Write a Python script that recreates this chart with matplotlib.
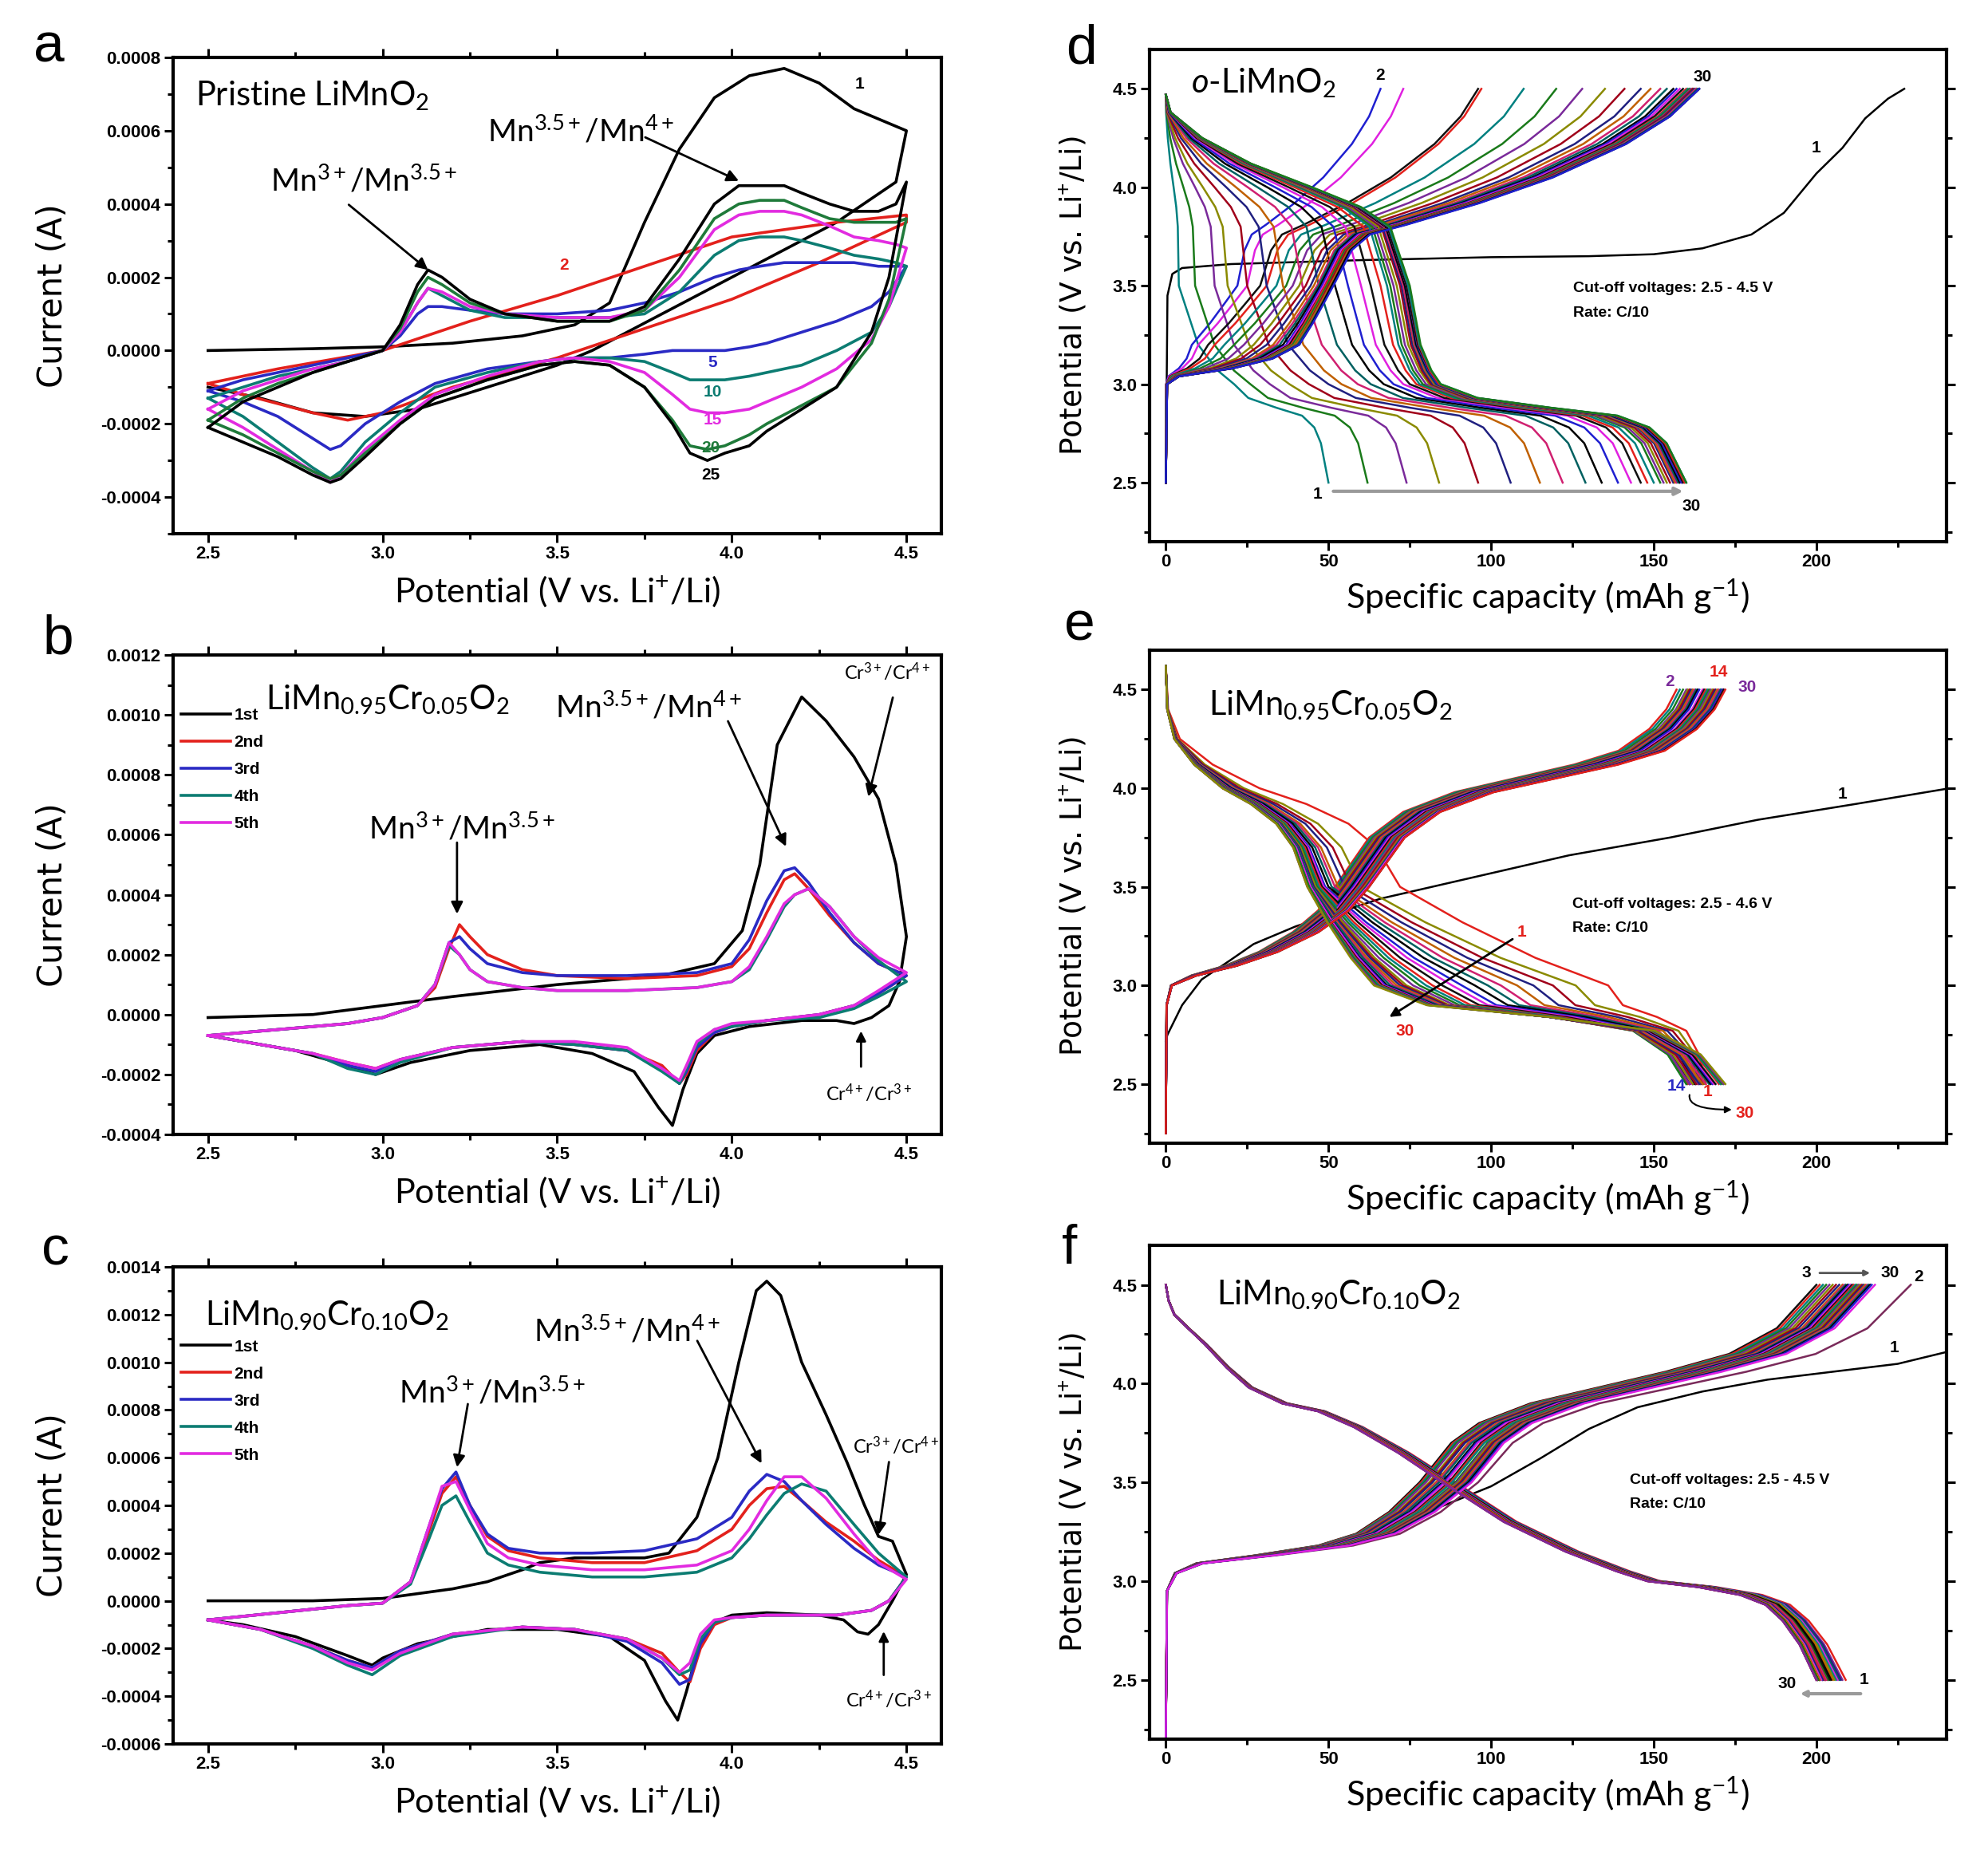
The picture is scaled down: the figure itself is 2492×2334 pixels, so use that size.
import matplotlib
matplotlib.use("Agg")
import matplotlib.pyplot as plt
from matplotlib.ticker import MultipleLocator, FormatStrFormatter

plt.rcParams['mathtext.fontset'] = 'custom'
plt.rcParams['mathtext.rm'] = 'Lato'
plt.rcParams['mathtext.it'] = 'Lato:italic'
plt.rcParams['mathtext.bf'] = 'Lato:bold'

# ---------------- panel a : pristine LiMnO2, CV cycles 1,2,5,10,15,20,25 ----------------
a_v1_up = [2.5, 2.8, 3.0, 3.2, 3.4, 3.55, 3.65, 3.75, 3.85, 3.95, 4.05, 4.15, 4.25, 4.35, 4.45, 4.5]
a_i1_up = [0.0, 0.000005, 0.00001, 0.00002, 0.00004, 0.00007, 0.00013, 0.00035, 0.00055, 0.00069,
           0.00075, 0.00077, 0.00073, 0.00066, 0.00062, 0.0006]
a_v1_down = [4.5, 4.47, 4.3, 4.0, 3.8, 3.6, 3.5, 3.3, 3.1, 2.95, 2.8, 2.65, 2.5]
a_i1_down = [0.0006, 0.00046, 0.00035, 0.0002, 0.0001, 0.0, -0.00004, -0.0001, -0.00016, -0.00018,
             -0.00017, -0.00013, -0.0001]

a_v2_up = [2.5, 2.7, 3.0, 3.25, 3.5, 3.75, 4.0, 4.3, 4.5]
a_i2_up = [-0.00009, -0.00005, 0.0, 0.00008, 0.00015, 0.00023, 0.00031, 0.00035, 0.00037]
a_v2_down = [4.5, 4.25, 4.0, 3.75, 3.5, 3.2, 3.0, 2.9, 2.8, 2.6, 2.5]
a_i2_down = [0.00035, 0.00024, 0.00014, 0.00006, -0.00002, -0.0001, -0.00017, -0.00019, -0.00017,
             -0.00012, -0.00009]

# shared potential grids for cycles 5-25
a_v_up = [2.5, 2.6, 2.7, 2.8, 2.9, 3.0, 3.05, 3.1, 3.13, 3.17, 3.25, 3.35, 3.5, 3.65, 3.75, 3.85,
          3.95, 4.02, 4.08, 4.15, 4.2, 4.28, 4.35, 4.42, 4.47, 4.5]
a_v_down = [4.5, 4.45, 4.4, 4.3, 4.2, 4.1, 4.05, 3.98, 3.93, 3.88, 3.83, 3.75, 3.65, 3.55, 3.45,
            3.3, 3.15, 3.05, 2.95, 2.88, 2.85, 2.8, 2.7, 2.6, 2.5]
a_i5_up = [-0.00011, -0.00008, -0.00006, -0.00004, -0.00002, 0.0, 0.00004, 0.0001, 0.00012, 0.00012,
           0.00011, 0.0001, 0.0001, 0.00011, 0.00013, 0.00016, 0.0002, 0.00022, 0.00023, 0.00024,
           0.00024, 0.00024, 0.00024, 0.00023, 0.00023, 0.00023]
a_i5_down = [0.00023, 0.00016, 0.00012, 0.00008, 0.00005, 0.00002, 0.00001, 0.0, 0.0, 0.0, 0.0,
             -0.00001, -0.00002, -0.00002, -0.00003, -0.00005, -0.00009, -0.00014, -0.0002, -0.00026,
             -0.00027, -0.00024, -0.00018, -0.00014, -0.00011]
a_i10_up = [-0.00013, -0.0001, -0.00007, -0.00005, -0.00003, 0.0, 0.00005, 0.00013, 0.00017, 0.00015,
            0.00011, 0.00009, 0.00009, 0.00009, 0.0001, 0.00016, 0.00026, 0.0003, 0.00031, 0.00031,
            0.0003, 0.00028, 0.00026, 0.00025, 0.00024, 0.00023]
a_i10_down = [0.00023, 0.00012, 0.00005, 0.0, -0.00004, -0.00006, -0.00007, -0.00008, -0.00008,
              -0.00008, -0.00006, -0.00003, -0.00002, -0.00002, -0.00003, -0.00006, -0.0001, -0.00017,
              -0.00025, -0.00033, -0.00035, -0.00032, -0.00025, -0.00018, -0.00013]
a_i15_up = [-0.00016, -0.00011, -0.00008, -0.00005, -0.00003, 0.0, 0.00005, 0.00013, 0.00017, 0.00016,
            0.00012, 0.0001, 0.00009, 0.00009, 0.00011, 0.0002, 0.00033, 0.00037, 0.00038, 0.00038,
            0.00037, 0.00034, 0.00031, 0.0003, 0.00029, 0.00028]
a_i15_down = [0.00028, 0.00012, 0.00003, -0.00005, -0.0001, -0.00014, -0.00016, -0.00017, -0.00017,
              -0.00016, -0.00012, -0.00006, -0.00003, -0.00002, -0.00003, -0.00007, -0.00012, -0.00019,
              -0.00027, -0.00034, -0.00036, -0.00033, -0.00027, -0.00021, -0.00016]
a_i20_up = [-0.00019, -0.00013, -0.00009, -0.00006, -0.00003, 0.0, 0.00006, 0.00016, 0.0002, 0.00018,
            0.00013, 0.0001, 0.00008, 0.00008, 0.00011, 0.00022, 0.00036, 0.0004, 0.00041, 0.00041,
            0.00039, 0.00036, 0.00035, 0.00035, 0.00035, 0.00036]
a_i20_down = [0.00036, 0.00014, 0.00002, -0.0001, -0.00015, -0.0002, -0.00023, -0.00026, -0.00027,
              -0.00026, -0.00019, -0.0001, -0.00004, -0.00003, -0.00004, -0.00008, -0.00013, -0.0002,
              -0.00028, -0.00034, -0.00035, -0.00033, -0.00028, -0.00023, -0.00019]
a_i25_up = [-0.00021, -0.00014, -0.0001, -0.00006, -0.00003, 0.0, 0.00007, 0.00018, 0.00022, 0.0002,
            0.00014, 0.0001, 0.00008, 0.00008, 0.00012, 0.00025, 0.0004, 0.00045, 0.00045, 0.00045,
            0.00043, 0.0004, 0.00038, 0.00038, 0.0004, 0.00046]
a_i25_down = [0.00046, 0.0002, 0.00005, -0.0001, -0.00016, -0.00022, -0.00026, -0.00028, -0.0003,
              -0.00028, -0.0002, -0.0001, -0.00004, -0.00003, -0.00004, -0.00008, -0.00013, -0.0002,
              -0.00029, -0.00035, -0.00036, -0.00034, -0.00029, -0.00025, -0.00021]

# ---------------- panel b : LiMn0.95Cr0.05O2, CV cycles 1-5 ----------------
b_v1_up = [2.5, 2.8, 3.0, 3.2, 3.5, 3.8, 3.95, 4.03, 4.08, 4.13, 4.2, 4.27, 4.35, 4.42, 4.47, 4.5]
b_i1_up = [-0.00001, 0.0, 0.00003, 0.00006, 0.0001, 0.00013, 0.00017, 0.00028, 0.0005, 0.0009,
           0.00106, 0.00098, 0.00086, 0.00072, 0.0005, 0.00026]
b_v1_down = [4.5, 4.48, 4.45, 4.4, 4.35, 4.3, 4.2, 4.05, 3.95, 3.9, 3.86, 3.83, 3.79, 3.72, 3.6,
             3.45, 3.25, 3.08, 2.98, 2.9, 2.75, 2.6, 2.5]
b_i1_down = [0.00026, 0.00011, 0.00003, -0.00001, -0.00003, -0.00002, -0.00002, -0.00004, -0.00007,
             -0.00013, -0.00025, -0.00037, -0.00031, -0.00019, -0.00013, -0.0001, -0.00012, -0.00016,
             -0.0002, -0.00017, -0.00012, -0.00009, -0.00007]
b_v_up = [2.5, 2.7, 2.9, 3.0, 3.1, 3.15, 3.19, 3.22, 3.25, 3.3, 3.4, 3.5, 3.7, 3.9, 4.0, 4.05, 4.1,
          4.15, 4.18, 4.22, 4.28, 4.35, 4.42, 4.5]
b_v_down = [4.5, 4.42, 4.35, 4.25, 4.1, 4.0, 3.95, 3.9, 3.87, 3.85, 3.8, 3.7, 3.55, 3.4, 3.2, 3.05,
            2.98, 2.9, 2.8, 2.65, 2.5]
b_i2_up = [-0.00007, -0.00005, -0.00003, -0.00001, 0.00003, 0.00009, 0.00022, 0.0003, 0.00026, 0.0002,
           0.00015, 0.00013, 0.00012, 0.00013, 0.00016, 0.00022, 0.00034, 0.00045, 0.00047, 0.00042,
           0.00033, 0.00024, 0.00017, 0.00013]
b_i2_down = [0.00013, 0.00007, 0.00003, 0.0, -0.00002, -0.00004, -0.00006, -0.00012, -0.0002, -0.00023,
             -0.00017, -0.00012, -0.0001, -0.00009, -0.00011, -0.00015, -0.00018, -0.00016, -0.00013,
             -0.0001, -0.00007]
b_i3_up = [-0.00007, -0.00005, -0.00003, -0.00001, 0.00003, 0.0001, 0.00024, 0.00026, 0.00022, 0.00017,
           0.00014, 0.00013, 0.00013, 0.00014, 0.00017, 0.00025, 0.00038, 0.00048, 0.00049, 0.00044,
           0.00034, 0.00024, 0.00017, 0.00013]
b_i3_down = [0.00013, 0.00007, 0.00003, 0.0, -0.00002, -0.00004, -0.00006, -0.00011, -0.00019, -0.00023,
             -0.00018, -0.00012, -0.0001, -0.00009, -0.00011, -0.00015, -0.00019, -0.00017, -0.00013,
             -0.0001, -0.00007]
b_i4_up = [-0.00007, -0.00005, -0.00003, -0.00001, 0.00003, 0.0001, 0.00023, 0.0002, 0.00015, 0.00011,
           0.00009, 0.00008, 0.00008, 0.00009, 0.00011, 0.00015, 0.00025, 0.00036, 0.0004, 0.00042,
           0.00036, 0.00026, 0.00018, 0.00011]
b_i4_down = [0.00011, 0.00006, 0.00002, -0.00001, -0.00002, -0.00004, -0.00005, -0.0001, -0.00018,
             -0.00023, -0.00019, -0.00012, -0.0001, -0.00009, -0.00011, -0.00016, -0.0002, -0.00018,
             -0.00013, -0.0001, -0.00007]
b_i5_up = [-0.00007, -0.00005, -0.00003, -0.00001, 0.00003, 0.0001, 0.00024, 0.0002, 0.00015, 0.00011,
           0.00009, 0.00008, 0.00008, 0.00009, 0.00011, 0.00016, 0.00026, 0.00037, 0.0004, 0.00042,
           0.00036, 0.00026, 0.00019, 0.00014]
b_i5_down = [0.00014, 0.00008, 0.00003, 0.0, -0.00002, -0.00003, -0.00005, -0.00009, -0.00017, -0.00022,
             -0.00018, -0.00011, -0.00009, -0.00009, -0.00011, -0.00015, -0.00018, -0.00016, -0.00013,
             -0.0001, -0.00007]

# ---------------- panel c : LiMn0.90Cr0.10O2, CV cycles 1-5 ----------------
c_v1_up = [2.5, 2.8, 3.0, 3.1, 3.2, 3.3, 3.4, 3.45, 3.55, 3.65, 3.75, 3.82, 3.9, 3.96, 4.02, 4.07,
           4.1, 4.14, 4.2, 4.27, 4.33, 4.38, 4.42, 4.46, 4.5]
c_i1_up = [0.0, 0.0, 0.00001, 0.00003, 0.00005, 0.00008, 0.00013, 0.00016, 0.00018, 0.00018, 0.00018,
           0.0002, 0.00035, 0.0006, 0.001, 0.0013, 0.00134, 0.00128, 0.001, 0.00078, 0.00058, 0.0004,
           0.00027, 0.00025, 0.00011]
c_v1_down = [4.5, 4.46, 4.42, 4.39, 4.36, 4.32, 4.25, 4.1, 4.0, 3.95, 3.9, 3.87, 3.845, 3.81, 3.75,
             3.65, 3.5, 3.3, 3.1, 3.0, 2.97, 2.9, 2.75, 2.6, 2.5]
c_i1_down = [0.00011, 0.0, -0.0001, -0.00014, -0.00013, -0.00008, -0.00006, -0.00005, -0.00006, -0.00009,
             -0.00022, -0.00038, -0.0005, -0.00042, -0.00025, -0.00015, -0.00012, -0.00012, -0.00018,
             -0.00024, -0.00027, -0.00023, -0.00015, -0.0001, -0.00008]
c_v_up = [2.5, 2.7, 2.9, 3.0, 3.08, 3.13, 3.17, 3.21, 3.25, 3.3, 3.36, 3.45, 3.6, 3.75, 3.9, 4.0,
          4.05, 4.1, 4.15, 4.2, 4.27, 4.35, 4.42, 4.5]
c_v_down = [4.5, 4.45, 4.4, 4.3, 4.1, 4.0, 3.95, 3.91, 3.88, 3.85, 3.8, 3.7, 3.55, 3.4, 3.2, 3.05,
            2.97, 2.9, 2.8, 2.65, 2.5]
c_i2_up = [-0.00008, -0.00005, -0.00002, -0.00001, 0.00008, 0.00028, 0.00045, 0.00052, 0.0004, 0.00027,
           0.00021, 0.00018, 0.00016, 0.00016, 0.00021, 0.0003, 0.0004, 0.00047, 0.00048, 0.00042,
           0.00033, 0.00025, 0.00017, 0.0001]
c_i2_down = [0.0001, 0.0, -0.00004, -0.00006, -0.00006, -0.00007, -0.0001, -0.0002, -0.00034, -0.0003,
             -0.00022, -0.00016, -0.00012, -0.00011, -0.00014, -0.00021, -0.00028, -0.00025, -0.00019,
             -0.00012, -0.00008]
c_i3_up = [-0.00008, -0.00005, -0.00002, -0.00001, 0.00008, 0.0003, 0.00047, 0.00054, 0.0004, 0.00028,
           0.00022, 0.0002, 0.0002, 0.00021, 0.00026, 0.00035, 0.00046, 0.00053, 0.0005, 0.00042,
           0.00032, 0.00022, 0.00015, 0.0001]
c_i3_down = [0.0001, 0.0, -0.00004, -0.00006, -0.00006, -0.00007, -0.00009, -0.00018, -0.00033, -0.00035,
             -0.00026, -0.00017, -0.00012, -0.00011, -0.00014, -0.00021, -0.00028, -0.00025, -0.00019,
             -0.00012, -0.00008]
c_i4_up = [-0.00008, -0.00005, -0.00002, -0.00001, 0.00007, 0.00025, 0.0004, 0.00044, 0.00033, 0.0002,
           0.00015, 0.00012, 0.0001, 0.0001, 0.00012, 0.00018, 0.00026, 0.00036, 0.00045, 0.00049,
           0.00046, 0.00032, 0.0002, 0.0001]
c_i4_down = [0.0001, 0.0, -0.00004, -0.00006, -0.00006, -0.00007, -0.00009, -0.00016, -0.00029, -0.00031,
             -0.00024, -0.00016, -0.00012, -0.00011, -0.00015, -0.00023, -0.00031, -0.00027, -0.0002,
             -0.00012, -0.00008]
c_i5_up = [-0.00008, -0.00005, -0.00002, -0.00001, 0.00008, 0.0003, 0.00048, 0.0005, 0.00038, 0.00024,
           0.00018, 0.00015, 0.00013, 0.00013, 0.00015, 0.00021, 0.0003, 0.00042, 0.00052, 0.00052,
           0.00043, 0.00028, 0.00016, 0.00009]
c_i5_down = [0.00009, 0.0, -0.00004, -0.00006, -0.00006, -0.00007, -0.00008, -0.00014, -0.00026, -0.0003,
             -0.00024, -0.00016, -0.00012, -0.00011, -0.00014, -0.00022, -0.00029, -0.00026, -0.00019,
             -0.00012, -0.00008]

# ---------------- galvanostatic curves: values read per cycle ----------------
# d : o-LiMnO2 (cycles 1..30); discharge capacity at 3.5 V, 3.0 V and at 2.5 V cut-off
d_dis_q35 = [4, 9, 15, 19, 25, 31, 36, 42, 47, 52, 56, 60, 63, 66, 68, 69, 70, 71, 72, 72.5, 73, 73,
             73.5, 73.5, 74, 74, 74, 74.5, 74.5, 75]
d_dis_q30 = [21, 26, 32, 38, 44, 50, 54, 59, 63, 67, 70, 73, 75, 77, 78, 79, 80, 81, 81.5, 82, 82.5,
             83, 83, 83.5, 83.5, 84, 84, 84, 84.5, 84.5]
d_dis_end = [50, 62, 74, 84, 96, 106, 115, 122, 129, 134, 139, 143, 146, 148, 150, 152, 153, 154, 155,
             156, 156.5, 157, 157.5, 158, 158.5, 159, 159, 159.5, 160, 160]
# charge of cycles 2..30: capacity at 3.2 V, 3.5 V and at 4.5 V cut-off
d_chg_q32 = [8, 10, 13, 15, 18, 21, 24, 27, 29, 31, 33, 34, 35, 36, 37, 37.5, 38, 38.5, 39, 39, 39.5,
             39.5, 40, 40, 40, 40.5, 40.5, 41, 41]
d_chg_q35 = [22, 25, 29, 31, 34, 37, 39, 41, 43, 44.5, 45.5, 46.5, 47, 47.5, 48, 48.5, 49, 49, 49.5,
             49.5, 50, 50, 50, 50.5, 50.5, 51, 51, 51, 51.5]
d_chg_end = [66, 73, 96, 97, 110, 120, 128, 135, 141, 146, 149, 152, 154, 156, 157, 158, 159, 160,
             160.5, 161, 161.5, 162, 162, 162.5, 163, 163, 163.5, 164, 164]
d_chg1_cap = [0, 0.5, 2, 5, 20, 60, 100, 130, 150, 165, 180, 190, 200, 208, 215, 222, 227]
d_chg1_volt = [2.5, 3.45, 3.56, 3.59, 3.61, 3.63, 3.645, 3.65, 3.66, 3.69, 3.76, 3.87, 4.07, 4.2,
               4.35, 4.45, 4.5]
# curve shapes read from one representative cycle: (fraction of segment, voltage)
d_chg_s1_f = [0, 0.01, 0.1, 0.5, 0.8, 1]
d_chg_s1_v = [2.5, 3.0, 3.04, 3.08, 3.13, 3.2]
d_chg_s2_f = [0, 0.4, 0.75, 1]
d_chg_s2_v = [3.2, 3.31, 3.42, 3.5]
d_chg_s3_f = [0, 0.05, 0.1, 0.2, 0.4, 0.6, 0.8, 0.92, 1]
d_chg_s3_v = [3.5, 3.68, 3.76, 3.81, 3.92, 4.05, 4.22, 4.36, 4.5]
d_dis_s1_f = [0, 0.02, 0.15, 0.35, 0.6, 0.8, 0.92, 1]
d_dis_s1_v = [4.47, 4.38, 4.25, 4.12, 4.0, 3.9, 3.8, 3.5]
d_dis_s2_f = [0, 0.35, 0.7, 1]
d_dis_s2_v = [3.5, 3.2, 3.07, 3.0]
d_dis_s3_f = [0, 0.15, 0.45, 0.72, 0.85, 0.92, 1]
d_dis_s3_v = [3.0, 2.93, 2.88, 2.84, 2.78, 2.7, 2.5]

# e : LiMn0.95Cr0.05O2
e_dis_q35 = [72, 60, 57, 55, 53, 52, 51, 50, 49, 48.5, 48, 47.5, 47, 46.5, 46, 46, 45.5, 45.5, 45, 45,
             45, 44.5, 44.5, 44.5, 44, 44, 44, 44, 43.5, 43.5]
e_dis_q30 = [136, 126, 119, 113, 108, 103, 99, 95, 91, 88, 85, 82, 80, 78, 76, 74, 73, 72, 71, 70, 69,
             68, 67.5, 67, 66.5, 66, 65.5, 65, 64.5, 64]
e_dis_end = [166, 165.5, 165, 164.5, 164, 163.5, 163, 162.5, 162, 161.5, 161, 160.5, 160, 160, 161, 162,
             163, 164, 165, 166, 167, 167.5, 168, 168.5, 169, 170, 170.5, 171, 171.5, 172]
e_chg_q35 = [52, 52.5, 53, 53.5, 54, 54.5, 55, 55.5, 56, 56.5, 57, 57.5, 58, 58.5, 59, 59.5, 60, 60,
             60.5, 60.5, 61, 61, 61.5, 61.5, 62, 62, 62, 62.5, 62.5]
e_chg_end = [157, 158, 159, 160, 160.5, 161, 161.5, 162, 162.5, 163, 163.5, 164, 165, 165.5, 166, 166.5,
             167, 167.5, 168, 168.5, 169, 169.5, 170, 170.5, 171, 171, 171.5, 171.5, 172]
e_chg1_cap = [0, 0.5, 5, 11, 20, 27, 40, 66, 95, 124, 155, 182, 212, 241]
e_chg1_volt = [2.72, 2.75, 2.9, 3.03, 3.13, 3.21, 3.3, 3.44, 3.55, 3.66, 3.75, 3.84, 3.92, 4.0]
e_chg_s1_f = [0, 0.004, 0.03, 0.15, 0.35, 0.55, 0.75, 0.9, 1]
e_chg_s1_v = [2.25, 2.9, 3.0, 3.05, 3.1, 3.17, 3.27, 3.38, 3.5]
e_chg_s2_f = [0, 0.1, 0.2, 0.35, 0.5, 0.7, 0.83, 0.92, 0.97, 1]
e_chg_s2_v = [3.5, 3.75, 3.88, 3.98, 4.04, 4.12, 4.19, 4.3, 4.4, 4.5]
e_dis_s1_f = [0, 0.01, 0.06, 0.2, 0.4, 0.6, 0.78, 0.9, 1]
e_dis_s1_v = [4.62, 4.4, 4.25, 4.12, 4.0, 3.92, 3.82, 3.7, 3.5]
e_dis_s2_f = [0, 0.3, 0.65, 1]
e_dis_s2_v = [3.5, 3.32, 3.14, 3.0]
e_dis_s3_f = [0, 0.15, 0.5, 0.8, 0.93, 1]
e_dis_s3_v = [3.0, 2.9, 2.84, 2.77, 2.65, 2.5]

# f : LiMn0.90Cr0.10O2
f_dis_q35 = [89, 88.5, 88.5, 88, 88, 88, 87.5, 87.5, 87.5, 87, 87, 87, 87, 86.5, 86.5, 86.5, 86.5, 86,
             86, 86, 86, 86, 85.5, 85.5, 85.5, 85.5, 85.5, 85, 85, 85]
f_dis_q30 = [152, 151.5, 151.5, 151, 151, 151, 150.5, 150.5, 150.5, 150, 150, 150, 150, 149.5, 149.5,
             149.5, 149.5, 149, 149, 149, 149, 149, 148.5, 148.5, 148.5, 148.5, 148, 148, 148, 148]
f_dis_end = [209, 208, 207.5, 207, 206.5, 206, 205.5, 205, 204.5, 204, 203.5, 203, 203, 202.5, 202.5,
             202, 202, 201.5, 201.5, 201, 201, 201, 200.5, 200.5, 200.5, 200, 200, 200, 200, 200]
f_chg_q35 = [96, 78, 78.5, 79, 79.5, 80, 81, 81.5, 82, 83, 83.5, 84, 85, 85.5, 86, 87, 87.5, 88, 89,
             89.5, 90, 90.5, 91, 91.5, 92, 92.5, 93, 93.5, 94]
f_chg_end = [229, 200, 201, 202, 203, 204, 205, 206, 207, 208, 208.5, 209, 209.5, 210, 210.5, 211, 211.5,
             212, 212.5, 213, 213.5, 214, 214.5, 215, 215.5, 216, 216.5, 217, 218]
f_chg1_cap = [0, 0.4, 3, 10, 30, 50, 60, 70, 85, 100, 115, 130, 145, 165, 185, 205, 225, 240]
f_chg1_volt = [2.2, 2.95, 3.04, 3.09, 3.13, 3.17, 3.2, 3.27, 3.38, 3.48, 3.62, 3.77, 3.88, 3.96, 4.02,
               4.06, 4.1, 4.16]
f_chg_s1_f = [0, 0.004, 0.035, 0.12, 0.35, 0.6, 0.75, 0.88, 1]
f_chg_s1_v = [2.2, 2.95, 3.04, 3.09, 3.13, 3.18, 3.24, 3.35, 3.5]
f_chg_s2_f = [0, 0.08, 0.15, 0.28, 0.45, 0.62, 0.78, 0.9, 1]
f_chg_s2_v = [3.5, 3.7, 3.8, 3.9, 3.98, 4.06, 4.15, 4.28, 4.5]
f_dis_s1_f = [0, 0.01, 0.03, 0.08, 0.14, 0.22, 0.3, 0.42, 0.55, 0.68, 0.84, 1]
f_dis_s1_v = [4.5, 4.42, 4.35, 4.28, 4.2, 4.08, 3.98, 3.9, 3.86, 3.78, 3.65, 3.5]
f_dis_s2_f = [0, 0.3, 0.6, 0.85, 1]
f_dis_s2_v = [3.5, 3.3, 3.15, 3.05, 3.0]
f_dis_s3_f = [0, 0.3, 0.55, 0.7, 0.8, 0.9, 1]
f_dis_s3_v = [3.0, 2.97, 2.93, 2.88, 2.8, 2.68, 2.5]

# styles
BLACK, RED, BLUE, TEAL, MAG, GREEN = '#000000', '#e3211c', '#2a2ac4', '#0c7c72', '#e22be0', '#1f7a3a'
gcd_palette = ['#000000', '#1f1fd0', '#e020e0', '#101010', '#e3211c', '#008080', '#1a7a1a',
               '#7a2a9a', '#8a8a00', '#a0001a', '#202080', '#c06000', '#d02070', '#006060']
TICKFONT = dict(family=['Liberation Sans', 'DejaVu Sans'], weight='bold', size=16)
LABELFONT = ['Lato', 'DejaVu Sans']
SMALL = dict(family=['Liberation Sans', 'DejaVu Sans'], weight='bold')


def build_curve(anchors, shapes):
    xs, vs = [], []
    for k, (fr, vo) in enumerate(shapes):
        a, b = anchors[k], anchors[k + 1]
        for j in range(len(fr)):
            if k > 0 and j == 0:
                continue
            xs.append(a + fr[j] * (b - a))
            vs.append(vo[j])
    return xs, vs


def style_cv(ax, ylo, yhi):
    ax.set_xlim(2.4, 4.6)
    ax.set_ylim(ylo, yhi)
    ax.xaxis.set_major_locator(MultipleLocator(0.5))
    ax.xaxis.set_minor_locator(MultipleLocator(0.25))
    ax.yaxis.set_major_locator(MultipleLocator(0.0002))
    ax.yaxis.set_minor_locator(MultipleLocator(0.0001))
    ax.xaxis.set_major_formatter(FormatStrFormatter('%.1f'))
    ax.yaxis.set_major_formatter(FormatStrFormatter('%.4f'))
    ax.tick_params(which='both', direction='out', top=True, right=False, width=2.2, pad=3)
    ax.tick_params(which='major', length=8)
    ax.tick_params(which='minor', length=5)
    ax.set_xlabel('Potential (V vs. Li$^{+}$/Li)', family=LABELFONT, fontsize=31, labelpad=10)
    ax.set_ylabel('Current (A)', family='DejaVu Sans', fontsize=30, labelpad=28)


def style_gcd(ax):
    ax.set_xlim(-5, 240)
    ax.set_ylim(2.2, 4.7)
    ax.xaxis.set_major_locator(MultipleLocator(50))
    ax.xaxis.set_minor_locator(MultipleLocator(25))
    ax.yaxis.set_major_locator(MultipleLocator(0.5))
    ax.yaxis.set_minor_locator(MultipleLocator(0.25))
    ax.yaxis.set_major_formatter(FormatStrFormatter('%.1f'))
    ax.tick_params(which='both', direction='out', top=False, right=True, width=2.2, pad=3)
    ax.tick_params(which='major', length=8)
    ax.tick_params(which='minor', length=5)
    ax.set_xlabel('Specific capacity (mAh g$^{-1}$)', family=LABELFONT, fontsize=31, labelpad=6)
    ax.set_ylabel('Potential (V vs. Li$^{+}$/Li)', family='DejaVu Sans', fontsize=27, labelpad=22)


def finish(ax):
    for sp in ax.spines.values():
        sp.set_linewidth(3)
    for lab in ax.get_xticklabels() + ax.get_yticklabels():
        lab.set_fontproperties(matplotlib.font_manager.FontProperties(**TICKFONT))


def arrow(ax, tail, head, color='black', lw=2.0, ms=22):
    ax.annotate('', xy=head, xytext=tail,
                arrowprops=dict(arrowstyle='-|>', color=color, lw=lw, mutation_scale=ms,
                                shrinkA=0, shrinkB=0))


W, H = 2492, 2334
fig = plt.figure(figsize=(W / 100, H / 100), dpi=100)


def axes_px(left, top, right, bottom):
    return fig.add_axes([left / W, 1 - bottom / H, (right - left) / W, (bottom - top) / H])


ax_a = axes_px(217, 72, 1180, 669)
ax_b = axes_px(217, 821, 1180, 1422)
ax_c = axes_px(217, 1588, 1180, 2186)
ax_d = axes_px(1441, 62, 2440, 679)
ax_e = axes_px(1441, 815, 2440, 1433)
ax_f = axes_px(1441, 1561, 2440, 2180)

LW = 2.6
LEG = dict(loc='upper left', frameon=False,
           prop=dict(family=['Liberation Sans', 'DejaVu Sans'], weight='bold', size=15),
           handlelength=3.0, handletextpad=0.2, labelspacing=0.72, borderaxespad=0, borderpad=0.1)
# ---- a ----
ax = ax_a
ax.plot(a_v1_up + a_v1_down, a_i1_up + a_i1_down, color=BLACK, lw=LW)
ax.plot(a_v2_up + a_v2_down, a_i2_up + a_i2_down, color=RED, lw=LW)
for iu, idn, col in [(a_i5_up, a_i5_down, BLUE), (a_i10_up, a_i10_down, TEAL),
                     (a_i15_up, a_i15_down, MAG), (a_i20_up, a_i20_down, GREEN),
                     (a_i25_up, a_i25_down, BLACK)]:
    ax.plot(a_v_up + a_v_down, iu + idn, color=col, lw=LW)
style_cv(ax, -0.0005, 0.0008)
ax.text(2.465, 0.000695, 'Pristine LiMnO$_2$', family=LABELFONT, fontsize=30, va='center')
ax.text(3.568, 0.000598, 'Mn$^{3.5+}$/Mn$^{4+}$', family=LABELFONT, fontsize=28, ha='center', va='center')
ax.text(2.946, 0.000463, 'Mn$^{3+}$/Mn$^{3.5+}$', family=LABELFONT, fontsize=28, ha='center', va='center')
arrow(ax, (3.752, 0.000582), (4.02, 0.000463))
arrow(ax, (2.903, 0.000398), (3.13, 0.00022))
for txt, x, y, col in [('1', 4.365, 0.000728, BLACK), ('2', 3.52, 0.000233, RED),
                       ('5', 3.945, -0.000034, BLUE), ('10', 3.945, -0.000114, TEAL),
                       ('15', 3.945, -0.00019, MAG), ('20', 3.94, -0.000265, GREEN),
                       ('25', 3.94, -0.00034, BLACK)]:
    ax.text(x, y, txt, color=col, fontsize=15, ha='center', va='center', **SMALL)
finish(ax)

# ---- b ----
ax = ax_b
hb = []
hb += ax.plot(b_v1_up + b_v1_down, b_i1_up + b_i1_down, color=BLACK, lw=LW, label='1st')
for iu, idn, col, lab in [(b_i2_up, b_i2_down, RED, '2nd'), (b_i3_up, b_i3_down, BLUE, '3rd'),
                          (b_i4_up, b_i4_down, TEAL, '4th'), (b_i5_up, b_i5_down, MAG, '5th')]:
    hb += ax.plot(b_v_up + b_v_down, iu + idn, color=col, lw=LW, label=lab)
style_cv(ax, -0.0004, 0.0012)
ax.legend(handles=hb, bbox_to_anchor=(0.008, 0.893), **LEG)
ax.text(2.666, 0.00105, 'LiMn$_{0.95}$Cr$_{0.05}$O$_2$', family=LABELFONT, fontsize=30, va='center')
ax.text(3.761, 0.001025, 'Mn$^{3.5+}$/Mn$^{4+}$', family=LABELFONT, fontsize=28, ha='center', va='center')
ax.text(3.227, 0.000621, 'Mn$^{3+}$/Mn$^{3.5+}$', family=LABELFONT, fontsize=28, ha='center', va='center')
ax.text(4.444, 0.001144, 'Cr$^{3+}$/Cr$^{4+}$', family=LABELFONT, fontsize=17, ha='center', va='center')
ax.text(4.391, -0.000261, 'Cr$^{4+}$/Cr$^{3+}$', family=LABELFONT, fontsize=17, ha='center', va='center')
arrow(ax, (3.989, 0.000979), (4.155, 0.000561))
arrow(ax, (3.213, 0.000574), (3.213, 0.000336))
arrow(ax, (4.461, 0.001058), (4.391, 0.000727))
arrow(ax, (4.37, -0.000174), (4.37, -0.000055), ms=18)
finish(ax)

# ---- c ----
ax = ax_c
hc = []
hc += ax.plot(c_v1_up + c_v1_down, c_i1_up + c_i1_down, color=BLACK, lw=LW, label='1st')
for iu, idn, col, lab in [(c_i2_up, c_i2_down, RED, '2nd'), (c_i3_up, c_i3_down, BLUE, '3rd'),
                          (c_i4_up, c_i4_down, TEAL, '4th'), (c_i5_up, c_i5_down, MAG, '5th')]:
    hc += ax.plot(c_v_up + c_v_down, iu + idn, color=col, lw=LW, label=lab)
style_cv(ax, -0.0006, 0.0014)
ax.legend(handles=hc, bbox_to_anchor=(0.008, 0.852), **LEG)
ax.text(2.491, 0.001196, 'LiMn$_{0.90}$Cr$_{0.10}$O$_2$', family=LABELFONT, fontsize=30, va='center')
ax.text(3.70, 0.00113, 'Mn$^{3.5+}$/Mn$^{4+}$', family=LABELFONT, fontsize=28, ha='center', va='center')
ax.text(3.314, 0.000874, 'Mn$^{3+}$/Mn$^{3.5+}$', family=LABELFONT, fontsize=28, ha='center', va='center')
ax.text(4.47, 0.00065, 'Cr$^{3+}$/Cr$^{4+}$', family=LABELFONT, fontsize=17, ha='center', va='center')
ax.text(4.45, -0.000413, 'Cr$^{4+}$/Cr$^{3+}$', family=LABELFONT, fontsize=17, ha='center', va='center')
arrow(ax, (3.901, 0.00109), (4.085, 0.000576))
arrow(ax, (3.244, 0.000825), (3.213, 0.00056))
arrow(ax, (4.45, 0.000582), (4.42, 0.000277))
arrow(ax, (4.435, -0.000311), (4.435, -0.000128), ms=18)
finish(ax)

GLW = 1.8
# ---- d ----
ax = ax_d
for n in range(30):
    col = gcd_palette[n % len(gcd_palette)]
    if n == 0:
        ax.plot(d_chg1_cap, d_chg1_volt, color=BLACK, lw=GLW)
    else:
        x, v = build_curve([0, d_chg_q32[n - 1], d_chg_q35[n - 1], d_chg_end[n - 1]],
                           [(d_chg_s1_f, d_chg_s1_v), (d_chg_s2_f, d_chg_s2_v), (d_chg_s3_f, d_chg_s3_v)])
        ax.plot(x, v, color=col, lw=GLW)
    x, v = build_curve([0, d_dis_q35[n], d_dis_q30[n], d_dis_end[n]],
                       [(d_dis_s1_f, d_dis_s1_v), (d_dis_s2_f, d_dis_s2_v), (d_dis_s3_f, d_dis_s3_v)])
    ax.plot(x, v, color=gcd_palette[(n + 5) % len(gcd_palette)], lw=GLW)
style_gcd(ax)
ax.text(7.8, 4.53, r'$\mathit{o}$-LiMnO$_2$', family=LABELFONT, fontsize=30, va='center')
for txt, x, y in [('2', 66, 4.57), ('30', 165, 4.56), ('1', 200, 4.2)]:
    ax.text(x, y, txt, fontsize=15, ha='center', va='center', **SMALL)
ax.text(125.2, 3.485, 'Cut-off voltages: 2.5 - 4.5 V', fontsize=14, va='center', **SMALL)
ax.text(125.2, 3.36, 'Rate: C/10', fontsize=14, va='center', **SMALL)
ax.text(46.6, 2.44, '1', fontsize=15, ha='center', va='center', **SMALL)
ax.text(161.5, 2.38, '30', fontsize=15, ha='center', va='center', **SMALL)
arrow(ax, (51.5, 2.456), (159, 2.456), color='#9a9a9a', lw=3, ms=14)
finish(ax)

# ---- e ----
ax = ax_e
for n in range(30):
    col = gcd_palette[(n + 3) % len(gcd_palette)]
    if n == 0:
        ax.plot(e_chg1_cap, e_chg1_volt, color=BLACK, lw=GLW)
    else:
        x, v = build_curve([0, e_chg_q35[n - 1], e_chg_end[n - 1]],
                           [(e_chg_s1_f, e_chg_s1_v), (e_chg_s2_f, e_chg_s2_v)])
        ax.plot(x, v, color=col, lw=GLW)
    x, v = build_curve([0, e_dis_q35[n], e_dis_q30[n], e_dis_end[n]],
                       [(e_dis_s1_f, e_dis_s1_v), (e_dis_s2_f, e_dis_s2_v), (e_dis_s3_f, e_dis_s3_v)])
    ax.plot(x, v, color=RED if n == 0 else gcd_palette[(n + 7) % len(gcd_palette)], lw=GLW)
style_gcd(ax)
ax.text(13.2, 4.42, 'LiMn$_{0.95}$Cr$_{0.05}$O$_2$', family=LABELFONT, fontsize=30, va='center')
for txt, x, y, col in [('2', 155, 4.54, '#7a2a9a'), ('14', 170, 4.59, RED), ('30', 178.6, 4.51, '#7a2a9a'),
                       ('1', 208, 3.97, BLACK), ('1', 109.5, 3.27, RED), ('30', 73.5, 2.77, RED),
                       ('14', 157, 2.49, BLUE), ('1', 166.5, 2.46, RED), ('30', 178, 2.35, RED)]:
    ax.text(x, y, txt, color=col, fontsize=15, ha='center', va='center', **SMALL)
ax.text(125, 3.41, 'Cut-off voltages: 2.5 - 4.6 V', fontsize=14, va='center', **SMALL)
ax.text(125, 3.29, 'Rate: C/10', fontsize=14, va='center', **SMALL)
arrow(ax, (106.6, 3.235), (68.7, 2.84), ms=18)
ax.annotate('', xy=(174, 2.37), xytext=(161, 2.445),
            arrowprops=dict(arrowstyle='-|>', color=BLACK, lw=1.5, mutation_scale=12,
                            connectionstyle='angle3,angleA=-100,angleB=0', shrinkA=0, shrinkB=0))
finish(ax)

# ---- f ----
ax = ax_f
for n in range(30):
    col = gcd_palette[(n + 1) % len(gcd_palette)]
    if n == 0:
        ax.plot(f_chg1_cap, f_chg1_volt, color=BLACK, lw=GLW)
    else:
        x, v = build_curve([0, f_chg_q35[n - 1], f_chg_end[n - 1]],
                           [(f_chg_s1_f, f_chg_s1_v), (f_chg_s2_f, f_chg_s2_v)])
        ax.plot(x, v, color='#7a2a5a' if n == 1 else col, lw=GLW)
    x, v = build_curve([0, f_dis_q35[n], f_dis_q30[n], f_dis_end[n]],
                       [(f_dis_s1_f, f_dis_s1_v), (f_dis_s2_f, f_dis_s2_v), (f_dis_s3_f, f_dis_s3_v)])
    ax.plot(x, v, color=gcd_palette[(n * 3 + 4) % len(gcd_palette)], lw=GLW)
style_gcd(ax)
ax.text(15.5, 4.45, 'LiMn$_{0.90}$Cr$_{0.10}$O$_2$', family=LABELFONT, fontsize=30, va='center')
for txt, x, y in [('3', 197, 4.56), ('30', 222.5, 4.56), ('2', 231.5, 4.54), ('1', 224, 4.18),
                  ('30', 191, 2.48), ('1', 214.5, 2.5)]:
    ax.text(x, y, txt, fontsize=15, ha='center', va='center', **SMALL)
ax.text(142.7, 3.51, 'Cut-off voltages: 2.5 - 4.5 V', fontsize=14, va='center', **SMALL)
ax.text(142.7, 3.39, 'Rate: C/10', fontsize=14, va='center', **SMALL)
arrow(ax, (201, 4.56), (216.5, 4.56), color='#555555', lw=2, ms=10)
arrow(ax, (213.6, 2.43), (195, 2.43), color='#9a9a9a', lw=3, ms=10)
finish(ax)

for letter, x, y in [('a', 61, 60), ('b', 73, 802), ('c', 69, 1568),
                     ('d', 1355, 62), ('e', 1353, 784), ('f', 1341, 1566)]:
    fig.text(x / W, 1 - y / H, letter, family=['Liberation Sans', 'DejaVu Sans'], fontsize=50,
             ha='center', va='center')

fig.savefig('out.png', dpi=100)
